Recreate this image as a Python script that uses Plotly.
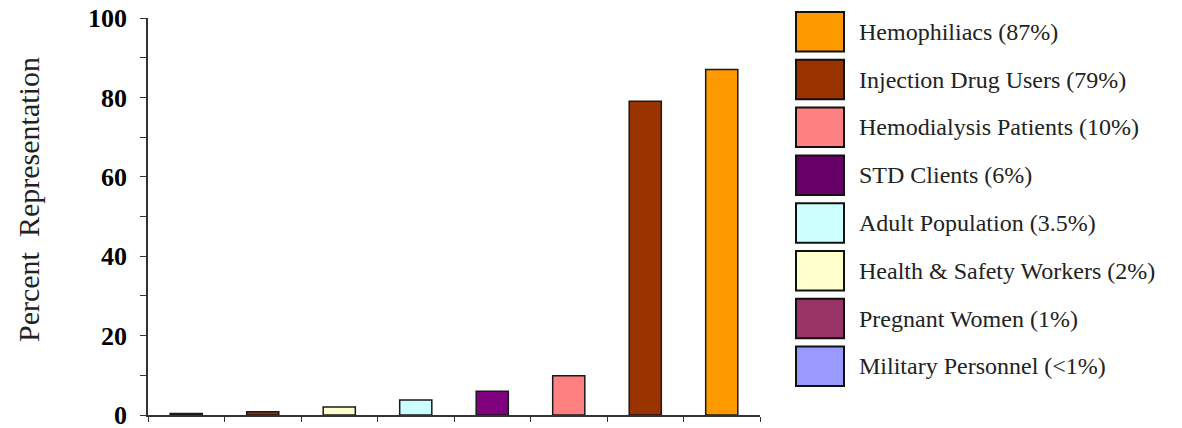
import plotly.graph_objects as go

# Data
categories = ["Military Personnel", "Pregnant Women", "Health & Safety Workers",
              "Adult Population", "STD Clients", "Hemodialysis Patients",
              "Injection Drug Users", "Hemophiliacs"]
values = [0.4, 0.8, 2.0, 3.8, 6.0, 9.9, 79.0, 87.0]
bar_colors = ["#9999FF", "#993300", "#FFFFCC", "#CCFFFF", "#800080", "#FF8080", "#993300", "#FF9900"]

legend_labels = ["Hemophiliacs (87%)", "Injection Drug Users (79%)", "Hemodialysis Patients (10%)",
                 "STD Clients (6%)", "Adult Population (3.5%)", "Health & Safety Workers (2%)",
                 "Pregnant Women (1%)", "Military Personnel (<1%)"]
legend_colors = ["#FF9900", "#993300", "#FF8080", "#660066", "#CCFFFF", "#FFFFCC", "#993366", "#9999FF"]

y_tickvals = list(range(0, 101, 10))
y_ticktext = [str(v) if v % 20 == 0 else "" for v in y_tickvals]

# page body offset (default 8px body margin)
OX, OY = 8, 8
W, H = 1182 - OX, 428 - OY
PL, PR, PT, PB = 148, 760, 18, 415   # plot area in window pixels
L = PL - OX
T = PT - OY
R = W - (PR - OX)
B = H - (PB - OY)
pw, ph = PR - PL, PB - PT

def px_x(px):
    return (px - PL) / pw

def px_y(py):
    return (PB - py) / ph

font_family = "Liberation Serif, Times New Roman, serif"

fig = go.Figure()
fig.add_trace(go.Bar(
    x=[i + 0.5 for i in range(len(categories))],
    y=values,
    width=0.42,
    marker=dict(color=bar_colors, line=dict(color="#1a1a1a", width=1.5)),
    hovertext=categories,
    showlegend=False,
))

shapes = []
annotations = []
top0, pitch, sh, sw = 12, 47.8, 39.5, 48
for i, (lab, col) in enumerate(zip(legend_labels, legend_colors)):
    y0 = top0 + i * pitch
    shapes.append(dict(type="rect", xref="paper", yref="paper",
                       x0=px_x(796), x1=px_x(796 + sw),
                       y0=px_y(y0 + sh), y1=px_y(y0),
                       fillcolor=col, line=dict(color="#111111", width=2)))
    annotations.append(dict(xref="paper", yref="paper", x=px_x(857), y=px_y(y0 + sh / 2),
                            text=lab, showarrow=False, xanchor="left", yanchor="middle",
                            font=dict(family=font_family, size=24, color="#222222")))

annotations.append(dict(xref="paper", yref="paper", x=px_x(28), y=px_y(200),
                        text="Percent&nbsp; Representation", textangle=-90, showarrow=False,
                        xanchor="center", yanchor="middle",
                        font=dict(family=font_family, size=30, color="#222222")))

fig.update_layout(
    width=W, height=H,
    margin=dict(l=L, r=R, t=T, b=B, autoexpand=False),
    paper_bgcolor="white", plot_bgcolor="white",
    shapes=shapes, annotations=annotations,
    xaxis=dict(range=[0, 8], tickvals=list(range(0, 9)), showticklabels=False,
               ticks="outside", ticklen=5, tickcolor="#333333", automargin=False,
               showline=True, linecolor="#333333", linewidth=1.5,
               showgrid=False, zeroline=False, fixedrange=True),
    yaxis=dict(range=[0, 100], tickvals=y_tickvals, ticktext=y_ticktext,
               ticks="outside", ticklen=6, tickcolor="#333333", automargin=False,
               ticklabeloverflow="allow",
               showline=True, linecolor="#333333", linewidth=1.5,
               showgrid=False, zeroline=False, ticklabelstandoff=8,
               tickfont=dict(family=font_family, size=26, color="black", weight="bold")),
    font=dict(family=font_family),
)

fig.write_html("out.html")
